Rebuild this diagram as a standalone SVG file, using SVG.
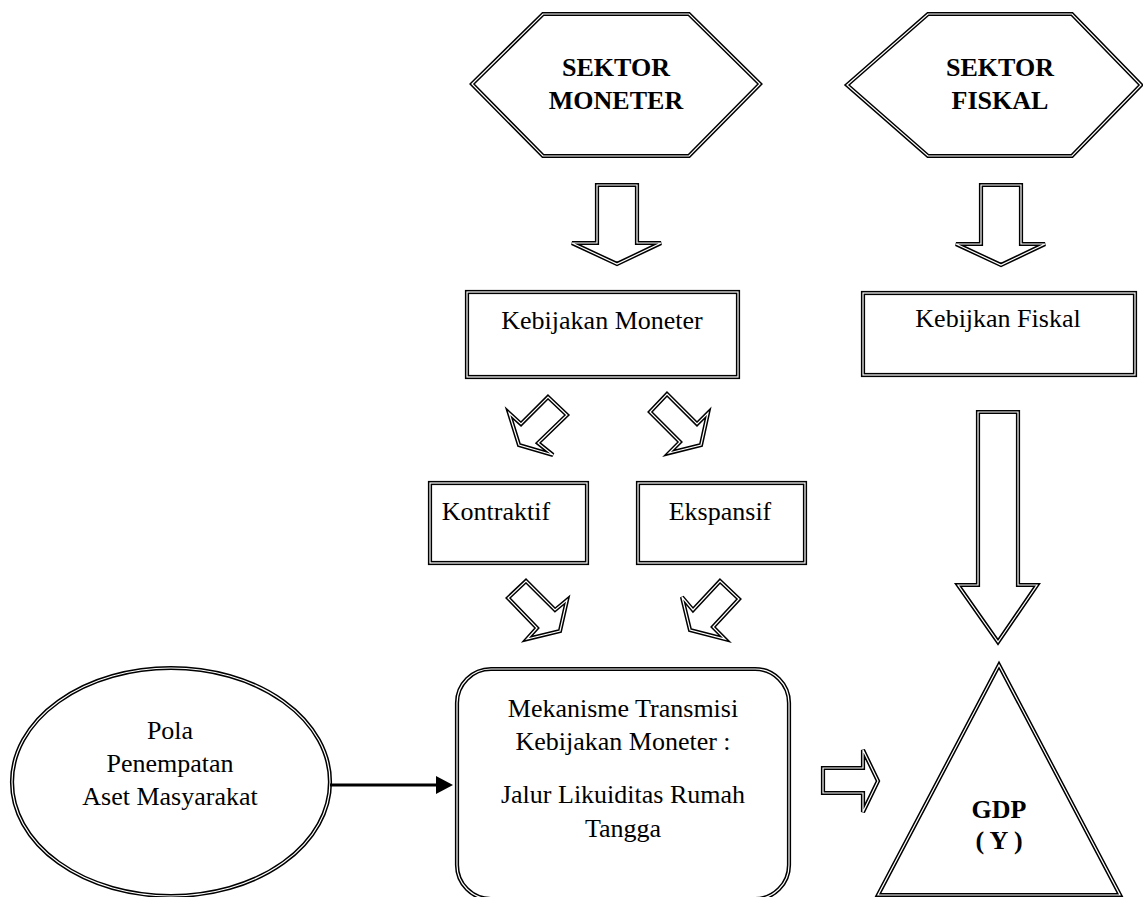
<svg xmlns="http://www.w3.org/2000/svg" xmlns:xlink="http://www.w3.org/1999/xlink" width="1143" height="897" viewBox="0 0 1143 897">
<style>
  .o { fill: #fff; stroke: #000; stroke-width: 4.2; stroke-linejoin: miter; }
  .i { fill: none; stroke: #fff; stroke-width: 1.2; stroke-linejoin: miter; }
  .t { font-family: "Liberation Serif", "Times New Roman", serif; font-size: 26px; fill: #000; text-anchor: middle; }
  .b { font-weight: bold; }
  .conn { stroke: #000; stroke-width: 3; fill: none; }
</style>
<defs>
  <polygon id="hexM" points="472,84 543,14 689,14 760,84 689,156 543,156"/>
  <polygon id="hexF" points="847,85 928,14 1072,14 1141,85 1072,156 928,156"/>
  <polygon id="arM" points="597,185 637,185 637,243 661,243 617,264 572,243 597,243"/>
  <polygon id="arF" points="981,185 1021,185 1021,244 1045,244 1001,265 956,244 981,244"/>
  <rect id="boxKM" x="467" y="292" width="271" height="85"/>
  <rect id="boxKF" x="863" y="293" width="272" height="82"/>
  <polygon id="arUL" points="548,397 567,415 538,443 553,455 519,445 509,413 521,424"/>
  <polygon id="arUR" points="667,394 697,424 708,413 701,445 669,453 680,442 650,412"/>
  <rect id="boxK" x="430" y="483" width="157" height="80"/>
  <rect id="boxE" x="638" y="483" width="167" height="80"/>
  <polygon id="arLL" points="526,581 555,610 567,600 560,631 527,639 537,628 508,598"/>
  <polygon id="arLR" points="720,581 739,599 713,627 725,639 690,630 682,597 693,610"/>
  <polygon id="arBig" points="978,412 1018,412 1018,585 1037,585 998,642 958,585 978,585"/>
  <polygon id="arR" points="823,768 863,768 863,750 878,781 863,812 863,793 823,793"/>
  <rect id="rr" x="457" y="669" width="332" height="230" rx="34" ry="34"/>
  <ellipse id="ell" cx="171" cy="782" rx="159" ry="114"/>
  <polygon id="tri" points="999,665 1120,895 878,895"/>
</defs>

<g id="sektor-moneter">
  <use xlink:href="#hexM" class="o"/><use xlink:href="#hexM" class="i"/>
  <text class="t b" x="616" y="76">SEKTOR</text>
  <text class="t b" x="616" y="109">MONETER</text>
</g>
<g id="sektor-fiskal">
  <use xlink:href="#hexF" class="o"/><use xlink:href="#hexF" class="i"/>
  <text class="t b" x="1000" y="76">SEKTOR</text>
  <text class="t b" x="1000" y="109">FISKAL</text>
</g>
<g id="kebijakan-moneter">
  <use xlink:href="#boxKM" class="o"/><use xlink:href="#boxKM" class="i"/>
  <text class="t" x="602" y="329">Kebijakan Moneter</text>
</g>
<g id="kebijkan-fiskal">
  <use xlink:href="#boxKF" class="o"/><use xlink:href="#boxKF" class="i"/>
  <text class="t" x="998" y="327">Kebijkan Fiskal</text>
</g>
<g id="kontraktif">
  <use xlink:href="#boxK" class="o"/><use xlink:href="#boxK" class="i"/>
  <text class="t" x="496" y="520">Kontraktif</text>
</g>
<g id="ekspansif">
  <use xlink:href="#boxE" class="o"/><use xlink:href="#boxE" class="i"/>
  <text class="t" x="720" y="520">Ekspansif</text>
</g>
<g id="pola">
  <use xlink:href="#ell" class="o"/><use xlink:href="#ell" class="i"/>
  <text class="t" x="170" y="739">Pola</text>
  <text class="t" x="170" y="772">Penempatan</text>
  <text class="t" x="170" y="805">Aset Masyarakat</text>
</g>
<g id="mekanisme">
  <use xlink:href="#rr" class="o"/><use xlink:href="#rr" class="i"/>
  <text class="t" x="623" y="717">Mekanisme Transmisi</text>
  <text class="t" x="623" y="750">Kebijakan Moneter :</text>
  <text class="t" x="623" y="803">Jalur Likuiditas Rumah</text>
  <text class="t" x="623" y="837">Tangga</text>
</g>
<g id="gdp">
  <use xlink:href="#tri" class="o"/><use xlink:href="#tri" class="i"/>
  <text class="t b" x="999" y="818">GDP</text>
  <text class="t b" x="999" y="849">( Y )</text>
</g>

<g id="connectors">
  <use xlink:href="#arM" class="o"/><use xlink:href="#arM" class="i"/>
  <use xlink:href="#arF" class="o"/><use xlink:href="#arF" class="i"/>
  <use xlink:href="#arUL" class="o"/><use xlink:href="#arUL" class="i"/>
  <use xlink:href="#arUR" class="o"/><use xlink:href="#arUR" class="i"/>
  <use xlink:href="#arLL" class="o"/><use xlink:href="#arLL" class="i"/>
  <use xlink:href="#arLR" class="o"/><use xlink:href="#arLR" class="i"/>
  <use xlink:href="#arBig" class="o"/><use xlink:href="#arBig" class="i"/>
  <use xlink:href="#arR" class="o"/><use xlink:href="#arR" class="i"/>
  <line class="conn" x1="330" y1="785" x2="438" y2="785"/>
  <polygon points="436,776 453,785 436,794" fill="#000"/>
</g>
</svg>
